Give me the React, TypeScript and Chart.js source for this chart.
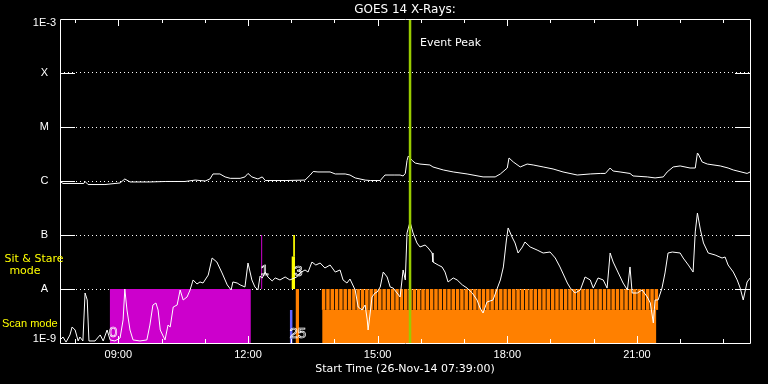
import { useEffect, useRef } from "react";
import { Chart, registerables } from "chart.js";

Chart.register(...registerables);

// ---------- text ----------
const TITLE = "GOES 14 X-Rays:";
const X_TITLE = "Start Time (26-Nov-14 07:39:00)";

// ---------- axes ----------
const X_START = "07:39";
const X_END = "23:37";
const hourTicks = [8, 9, 10, 11, 12, 13, 14, 15, 16, 17, 18, 19, 20, 21, 22, 23];
const labelledHours = [9, 12, 15, 18, 21];
const yTickValues = [1e-9, 1e-8, 1e-7, 1e-6, 1e-5, 1e-4, 1e-3];
const yTickLabels = ["1E-9", "A", "B", "C", "M", "X", "1E-3"];

// ---------- series: [hour of day, flux W/m^2] ----------
const longChannel: [number, number][] = [
  [7.65, 0.98e-6], [7.72, 0.9e-6], [8.2, 0.9e-6], [8.23, 0.98e-6], [8.3, 0.86e-6], [8.69, 0.86e-6],
  [9.04, 0.92e-6], [9.15, 1.09e-6], [9.27, 0.96e-6], [9.73, 0.96e-6], [10.1, 0.98e-6], [10.54, 0.98e-6],
  [10.78, 1.04e-6], [11.01, 1.0e-6], [11.12, 1.09e-6], [11.19, 1.35e-6], [11.35, 1.35e-6], [11.47, 1.19e-6],
  [11.59, 1.12e-6], [11.82, 1.12e-6], [11.93, 1.19e-6], [12.0, 1.38e-6], [12.09, 1.19e-6], [12.23, 1.09e-6],
  [12.33, 1.19e-6], [12.4, 1.02e-6], [12.86, 1.02e-6], [13.32, 1.04e-6], [13.44, 1.29e-6], [13.51, 1.5e-6],
  [13.62, 1.47e-6], [13.9, 1.47e-6], [14.02, 1.35e-6], [14.25, 1.35e-6], [14.36, 1.29e-6], [14.48, 1.14e-6],
  [14.71, 1.04e-6], [14.83, 1.02e-6], [15.06, 1.02e-6], [15.17, 1.29e-6], [15.4, 1.29e-6], [15.52, 1.29e-6],
  [15.59, 1.24e-6], [15.64, 1.38e-6], [15.68, 2.4e-6], [15.71, 2.9e-6], [15.75, 2.67e-6], [15.8, 2.4e-6],
  [15.87, 2.15e-6], [15.98, 2.06e-6], [16.21, 1.98e-6], [16.28, 1.82e-6], [16.52, 1.6e-6], [16.75, 1.47e-6],
  [17.07, 1.35e-6], [17.44, 1.19e-6], [17.72, 1.19e-6], [17.84, 1.35e-6], [18.0, 1.74e-6], [18.04, 2.67e-6],
  [18.14, 2.25e-6], [18.3, 1.82e-6], [18.46, 2.06e-6], [18.6, 1.98e-6], [18.83, 1.82e-6], [19.06, 1.67e-6],
  [19.29, 1.47e-6], [19.62, 1.29e-6], [19.92, 1.35e-6], [20.15, 1.38e-6], [20.27, 1.38e-6], [20.38, 1.74e-6],
  [20.45, 1.53e-6], [20.61, 1.47e-6], [20.84, 1.38e-6], [20.91, 1.24e-6], [21.24, 1.19e-6], [21.42, 1.14e-6],
  [21.61, 1.19e-6], [21.7, 1.47e-6], [21.84, 1.82e-6], [22.0, 1.9e-6], [22.23, 1.74e-6], [22.35, 1.74e-6],
  [22.4, 3.3e-6], [22.42, 3.16e-6], [22.51, 2.25e-6], [22.63, 2.06e-6], [22.93, 1.9e-6], [23.11, 1.74e-6],
  [23.23, 1.6e-6], [23.55, 1.38e-6], [23.62, 1.47e-6],
];

const shortChannel: [number, number][] = [
  [7.65, 1.14e-9], [7.72, 1.29e-9], [7.79, 1.04e-9], [7.88, 1.41e-9], [7.93, 1.98e-9], [8.0, 1.74e-9],
  [8.07, 1.09e-9], [8.11, 1.29e-9], [8.18, 1.09e-9], [8.23, 8.43e-9], [8.28, 6.26e-9], [8.32, 1.09e-9],
  [8.46, 1.09e-9], [8.58, 1.41e-9], [8.65, 1.09e-9], [8.74, 1.74e-9], [8.81, 1.14e-9], [8.92, 1.09e-9],
  [9.04, 1.24e-9], [9.11, 2.67e-9], [9.15, 1.0e-8], [9.2, 4.08e-9], [9.27, 1.74e-9], [9.34, 1.14e-9],
  [9.5, 1.09e-9], [9.66, 1.14e-9], [9.73, 2.15e-9], [9.8, 5.05e-9], [9.87, 5.5e-9], [9.92, 4.08e-9],
  [9.97, 1.74e-9], [10.08, 1.14e-9], [10.15, 2.15e-9], [10.2, 1.98e-9], [10.27, 4.64e-9], [10.36, 5.05e-9],
  [10.43, 9.58e-9], [10.5, 6.26e-9], [10.59, 7.11e-9], [10.66, 9.58e-9], [10.73, 1.47e-8], [10.82, 1.24e-8],
  [10.89, 1.35e-8], [10.96, 1.29e-8], [11.08, 1.81e-8], [11.17, 3.75e-8], [11.28, 3.16e-8], [11.4, 1.98e-8],
  [11.52, 1.19e-8], [11.61, 9.58e-9], [11.65, 1.35e-8], [11.75, 1.29e-8], [11.82, 1.19e-8], [11.93, 1.09e-8],
  [12.0, 3.03e-8], [12.09, 1.47e-8], [12.16, 1.09e-8], [12.23, 9.58e-9], [12.28, 1.74e-8], [12.33, 1.6e-8],
  [12.4, 2.06e-8], [12.46, 1.67e-8], [12.56, 1.41e-8], [12.63, 1.6e-8], [12.74, 1.47e-8], [12.86, 1.67e-8],
  [12.97, 1.47e-8], [13.13, 1.67e-8], [13.2, 1.98e-8], [13.32, 2.25e-8], [13.39, 2.06e-8], [13.48, 3.16e-8],
  [13.57, 2.78e-8], [13.67, 3.03e-8], [13.78, 2.45e-8], [13.9, 2.78e-8], [14.02, 2.06e-8], [14.13, 2.25e-8],
  [14.2, 1.47e-8], [14.29, 1.29e-8], [14.36, 1.53e-8], [14.48, 9.58e-9], [14.55, 4.64e-9], [14.64, 4.08e-9],
  [14.71, 5.05e-9], [14.76, 2.67e-9], [14.78, 1.74e-9], [14.83, 3.75e-9], [14.87, 7.11e-9], [14.94, 8.43e-9],
  [14.99, 8.8e-9], [15.06, 1.09e-8], [15.13, 2.06e-8], [15.22, 1.67e-8], [15.29, 1.09e-8], [15.36, 1.04e-8],
  [15.45, 8.43e-9], [15.52, 7.11e-9], [15.59, 2.25e-8], [15.64, 1.47e-8], [15.68, 1.09e-7], [15.75, 1.74e-7],
  [15.82, 1.09e-7], [15.91, 7.11e-8], [15.98, 6.0e-8], [16.1, 6.53e-8], [16.17, 5.74e-8], [16.26, 4.64e-8],
  [16.28, 3.16e-8], [16.4, 2.78e-8], [16.49, 2.56e-8], [16.56, 2.06e-8], [16.63, 1.35e-8], [16.75, 1.6e-8],
  [16.84, 1.47e-8], [16.96, 1.19e-8], [17.07, 1.04e-8], [17.19, 8.43e-9], [17.3, 6.26e-9], [17.37, 4.45e-9],
  [17.44, 3.59e-9], [17.53, 5.74e-9], [17.67, 6.26e-9], [17.77, 1.04e-8], [17.84, 1.47e-8], [17.91, 2.56e-8],
  [17.98, 8.07e-8], [18.02, 1.35e-7], [18.11, 9.18e-8], [18.18, 7.11e-8], [18.25, 4.64e-8], [18.35, 6.0e-8],
  [18.41, 7.42e-8], [18.53, 6.0e-8], [18.69, 5.27e-8], [18.83, 4.64e-8], [18.99, 4.84e-8], [19.11, 3.75e-8],
  [19.22, 2.56e-8], [19.39, 1.29e-8], [19.46, 1.04e-8], [19.57, 8.43e-9], [19.69, 9.58e-9], [19.8, 1.67e-8],
  [19.92, 1.47e-8], [19.99, 1.04e-8], [20.1, 1.6e-8], [20.22, 1.47e-8], [20.31, 1.04e-8], [20.38, 4.64e-8],
  [20.45, 3.16e-8], [20.57, 1.98e-8], [20.68, 1.29e-8], [20.78, 9.58e-9], [20.84, 2.56e-8], [20.89, 8.43e-9],
  [21.01, 8.43e-9], [21.12, 9.58e-9], [21.24, 7.11e-9], [21.31, 5.5e-9], [21.38, 2.35e-9], [21.42, 6.26e-9],
  [21.49, 6.26e-9], [21.58, 1.04e-8], [21.65, 1.98e-8], [21.72, 4.64e-8], [21.82, 4.84e-8], [22.0, 4.64e-8],
  [22.07, 3.75e-8], [22.19, 2.78e-8], [22.3, 2.06e-8], [22.35, 1.14e-7], [22.4, 2.55e-7], [22.47, 1.24e-7],
  [22.54, 7.11e-8], [22.65, 4.64e-8], [22.81, 4.26e-8], [22.97, 3.75e-8], [23.04, 3.91e-8], [23.11, 2.78e-8],
  [23.23, 2.06e-8], [23.32, 1.47e-8], [23.39, 1.04e-8], [23.46, 6.26e-9], [23.55, 1.35e-8], [23.62, 1.6e-8],
];

// ---------- observing-mode marks ----------
const EVENT_PEAK = "15:45";
const SCAN_TOP = 1e-8;
const SCAN_BASE = 4.1e-9;
const magentaBlock = ["08:48", "12:04"];
const blueBlock = ["12:58", "13:02"];
const orangeBlock = ["13:06", "13:11"];
const orangeScan = ["13:43", "21:27"];
const magentaMark = "12:19";
const yellowThin = "13:04";
const yellowThick = "13:03";
const yellowLevels = [1e-7, 4e-8, 1e-8];
const orangeStripes = [
  "13:45", "13:51", "13:57",
  "14:03", "14:09", "14:15", "14:21", "14:27", "14:33", "14:39", "14:45", "14:51", "14:57",
  "15:03", "15:09", "15:15", "15:21", "15:27", "15:33", "15:39", "15:45", "15:51", "15:57",
  "16:03", "16:09", "16:15", "16:21", "16:27", "16:33", "16:39", "16:45", "16:51", "16:57",
  "17:03", "17:09", "17:15", "17:21", "17:27", "17:33", "17:39", "17:45", "17:51", "17:57",
  "18:03", "18:09", "18:15", "18:21", "18:27", "18:33", "18:39", "18:45", "18:51", "18:57",
  "19:03", "19:09", "19:15", "19:21", "19:27", "19:33", "19:39", "19:45", "19:51", "19:57",
  "20:03", "20:09", "20:15", "20:21", "20:27", "20:33", "20:39", "20:45", "20:51", "20:57",
  "21:03", "21:09", "21:15", "21:21", "21:27",
];
const eventNumbers = ["0", "1", "3", "25"];

const hm = (s: string) => {
  const [h, m] = s.split(":").map(Number);
  return h + m / 60;
};
const pad2 = (n: number) => String(n).padStart(2, "0");

const WHITE = "#ffffff";
const MAGENTA = "#cc00cc";
const ORANGE = "#ff8000";
const BLUE = "#6464ff";
const YELLOW = "#ffff00";
const GREEN = "#99cc00";
const EDGE = Math.pow(10, 4 / 54);

const line = (data: { x: number; y: number }[], color: string, width: number, order: number) => ({
  type: "line" as const,
  data,
  borderColor: color,
  borderWidth: width,
  pointRadius: 0,
  tension: 0,
  fill: false,
  order,
});

const block = (range: string[], top: number, color: string) => ({
  type: "line" as const,
  data: [
    { x: hm(range[0]), y: top },
    { x: hm(range[1]), y: top },
  ],
  borderColor: "transparent",
  borderWidth: 0,
  backgroundColor: color,
  pointRadius: 0,
  tension: 0,
  fill: "start",
  order: 3,
});

const decor = {
  id: "decor",
  afterDatasetsDraw(chart: any) {
    const { ctx, chartArea: a, scales } = chart;
    const x = scales.x;
    const y = scales.y;
    ctx.save();
    ctx.strokeStyle = WHITE;
    ctx.lineWidth = 1;
    ctx.beginPath();
    ctx.rect(Math.round(a.left) + 0.5, Math.round(a.top) + 0.5, Math.round(a.right - a.left), Math.round(a.bottom - a.top));
    for (const h of hourTicks) {
      const px = Math.round(x.getPixelForValue(h)) + 0.5;
      const len = labelledHours.includes(h) ? 7 : 4;
      ctx.moveTo(px, a.top);
      ctx.lineTo(px, a.top + len);
      ctx.moveTo(px, a.bottom);
      ctx.lineTo(px, a.bottom - len);
    }
    for (let i = 1; i < yTickValues.length - 1; i++) {
      const py = Math.round(y.getPixelForValue(yTickValues[i])) + 0.5;
      ctx.moveTo(a.left, py);
      ctx.lineTo(a.left + 15, py);
      ctx.moveTo(a.right - 15, py);
      ctx.lineTo(a.right, py);
    }
    ctx.stroke();

    ctx.textBaseline = "middle";
    ctx.fillStyle = WHITE;
    ctx.font = "11px 'DejaVu Sans'";
    ctx.textAlign = "left";
    ctx.fillText("Event Peak", x.getPixelForValue(hm(EVENT_PEAK)) + 10, a.top + 24);

    ctx.fillStyle = YELLOW;
    ctx.textAlign = "center";
    ctx.fillText("Sit & Stare", 34, 259);
    ctx.fillText("mode", 25, 271);
    ctx.font = "11px 'Liberation Sans'";
    ctx.textAlign = "left";
    ctx.fillText("Scan mode", 2, 324);

    ctx.strokeStyle = WHITE;
    ctx.lineWidth = 0.7;
    ctx.font = "15px 'Liberation Sans'";
    ctx.textAlign = "center";
    const spots = [
      [x.getPixelForValue(hm(magentaBlock[0])) + 3.5, 332.5],
      [x.getPixelForValue(hm(magentaMark)) + 3, 271],
      [x.getPixelForValue(hm(yellowThick)) + 5, 271.5],
      [x.getPixelForValue(hm(blueBlock[0])) + 8, 333.5],
    ];
    eventNumbers.forEach((t, i) => ctx.strokeText(t, spots[i][0], spots[i][1]));
    ctx.restore();
  },
};

export default function App() {
  const ref = useRef<HTMLCanvasElement>(null);
  useEffect(() => {
    document.body.style.margin = "0";
    const peak = hm(EVENT_PEAK);
    const chart = new Chart(ref.current!, {
      type: "line",
      data: {
        datasets: [
          line([{ x: peak, y: 1e-9 }, { x: peak, y: 1e-3 }], GREEN, 2.5, 0),
          line(longChannel.map(([x, y]) => ({ x, y })), WHITE, 1, 1),
          line(shortChannel.map(([x, y]) => ({ x, y })), WHITE, 1, 1),
          line([{ x: hm(magentaMark), y: SCAN_TOP }, { x: hm(magentaMark), y: 1e-7 }], MAGENTA, 1, 2),
          line([{ x: hm(yellowThin), y: yellowLevels[0] }, { x: hm(yellowThin), y: yellowLevels[1] }], YELLOW, 1, 2),
          line([{ x: hm(yellowThick), y: yellowLevels[1] }, { x: hm(yellowThick), y: yellowLevels[2] }], YELLOW, 3.3, 2),
          block(magentaBlock, SCAN_TOP, MAGENTA),
          block(blueBlock, SCAN_BASE, BLUE),
          block(orangeBlock, SCAN_TOP, ORANGE),
          block(orangeScan, SCAN_BASE, ORANGE),
          {
            type: "bar" as const,
            data: orangeStripes.map((s) => ({ x: hm(s), y: [SCAN_BASE, SCAN_TOP] })),
            backgroundColor: ORANGE,
            borderWidth: 0,
            barPercentage: 0.8,
            categoryPercentage: 1,
            grouped: false,
            order: 4,
          } as any,
        ] as any,
      },
      options: {
        animation: false,
        responsive: false,
        devicePixelRatio: 1,
        events: [],
        layout: { padding: { left: 0, right: 18, top: 0, bottom: 0 } },
        plugins: {
          legend: { display: false },
          tooltip: { enabled: false },
          title: {
            display: true,
            text: TITLE,
            color: WHITE,
            fullSize: false,
            font: { family: "DejaVu Sans", size: 12, weight: "normal", lineHeight: "13px" } as any,
            padding: { top: 3, bottom: 3 },
          },
        },
        scales: {
          x: {
            type: "linear",
            position: "bottom",
            min: hm(X_START),
            max: hm(X_END),
            offset: false,
            afterBuildTicks: (s: any) => {
              s.ticks = hourTicks.map((v) => ({ value: v }));
            },
            afterFit: (s: any) => {
              s.height = 41;
            },
            ticks: {
              color: WHITE,
              autoSkip: false,
              maxRotation: 0,
              minRotation: 0,
              padding: 5,
              font: { family: "Liberation Sans", size: 11 },
              callback: (v: any) => (labelledHours.includes(Number(v)) ? `${pad2(Number(v))}:00` : ""),
            },
            grid: { display: false, drawTicks: false },
            border: { display: false },
            title: {
              display: true,
              text: X_TITLE,
              color: WHITE,
              font: { family: "DejaVu Sans", size: 11 },
              padding: { top: 0, bottom: 8 },
            },
          },
          y: {
            type: "logarithmic",
            position: "left",
            min: 1e-9,
            max: 1e-3,
            afterBuildTicks: (s: any) => {
              const last = yTickValues.length - 1;
              s.ticks = yTickValues.map((v, i) => ({ value: i === 0 ? v * EDGE : i === last ? v / EDGE : v }));
            },
            afterFit: (s: any) => {
              s.width = 60;
            },
            ticks: {
              color: WHITE,
              autoSkip: false,
              crossAlign: "center",
              padding: 4,
              font: { family: "Liberation Sans", size: 11 },
              callback: (_v: any, i: number) => yTickLabels[i],
            },
            grid: {
              drawTicks: false,
              lineWidth: 1,
              color: (c: any) => (c.index === 0 || c.index === yTickValues.length - 1 ? "transparent" : WHITE),
            },
            border: { display: false, dash: [1, 3] },
          },
        },
      },
      plugins: [decor],
    } as any);
    return () => chart.destroy();
  }, []);
  return (
    <div style={{ position: "fixed", left: 0, top: 0, width: 768, height: 384, background: "#000" }}>
      <canvas ref={ref} width={768} height={384} style={{ display: "block", width: 768, height: 384 }} />
    </div>
  );
}
